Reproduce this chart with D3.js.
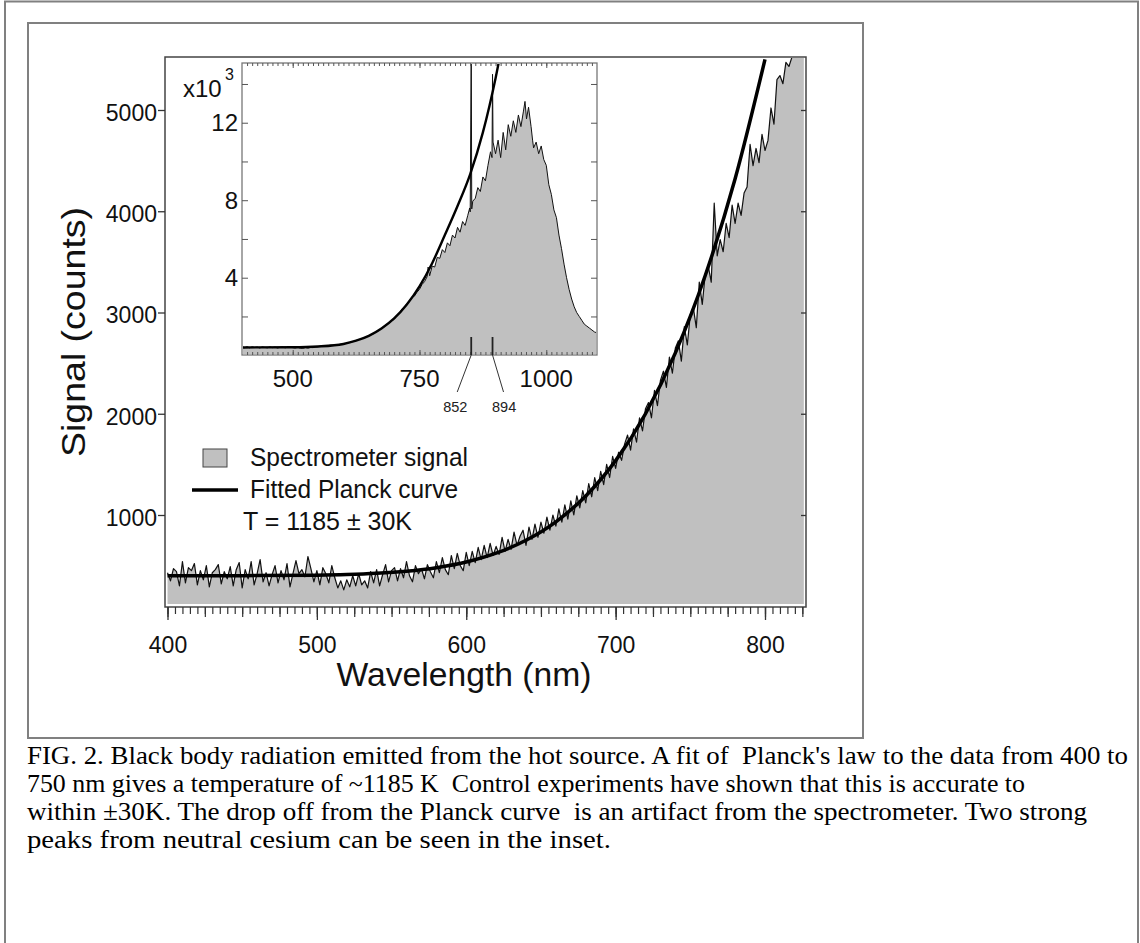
<!DOCTYPE html>
<html>
<head>
<meta charset="utf-8">
<script src="https://cdn.jsdelivr.net/npm/d3@7"></script>
<style>
  body { margin: 0; background: #fff; }
  svg { display: block; }
  text.sans { font-family: "Liberation Sans", Arial, Helvetica, sans-serif; }
  text.caption { font-family: "Liberation Serif", "Times New Roman", Times, serif; white-space: pre; }
  .tick text { font-family: "Liberation Sans", Arial, Helvetica, sans-serif; }
</style>
</head>
<body>
<div id="chart"></div>
<script>
// main spectrum: counts every 2 nm starting at 400 nm
const mainStart = 400, mainStep = 2;
const mainSignal = [
  430, 350, 470, 440, 300, 540, 330, 480, 450, 520, 310, 450, 360, 500, 290, 430, 460, 510, 320, 440,
  370, 490, 300, 460, 530, 280, 460, 370, 540, 310, 420, 560, 340, 430, 300, 410, 500, 330, 450, 360,
  520, 290, 420, 550, 420, 460, 390, 590, 470, 340, 450, 310, 480, 420, 330, 500, 380, 280, 350, 260,
  360, 290, 400, 300, 420, 310, 350, 280, 440, 330, 460, 300, 410, 510, 340, 450, 480, 350, 470, 380,
  540, 400, 340, 500, 420, 470, 370, 510, 440, 380, 540, 430, 580, 460, 410, 600, 470, 620, 500, 450,
  630,
  500, 640, 530, 680, 560, 700, 580, 720, 600, 690, 610, 780, 640, 760, 660, 830, 700, 790, 850, 700,
  880, 760, 910, 780, 930, 820, 980, 850, 1000, 890, 1060, 930, 1100, 960, 1140, 1000, 1190, 1070, 1240, 1120,
  1310, 1180, 1370, 1240, 1430, 1300, 1500, 1370, 1580, 1460,
  1620, 1540, 1700, 1790, 1640, 1850, 1720, 1960, 1830, 2050, 2110, 1960, 2230, 2080, 2330, 2420, 2260, 2560, 2400, 2650,
  2720, 2520, 2860, 2680, 2980, 3050, 2850, 3300, 3080, 3380, 3460, 3300, 4080, 3560, 3720, 3600, 3880, 3740, 4060, 3880,
  4080, 3960, 4180, 4240, 4660, 4450, 4620, 4480, 4760, 4600, 4700, 5020, 4860, 5300, 5340, 5260, 5470, 5430, 5520, 5600,
  5650, 5700, 5750
];
const planckWl = [400, 450, 500, 520, 540, 560, 580, 600, 620, 640, 660, 680, 700, 720, 740, 760, 780, 800];
const planckCounts = [400, 401, 406, 412, 424, 445, 480, 536, 623, 750, 933, 1188, 1537, 2000, 2601, 3365, 4321, 5500];

// inset spectrum, x10^3 counts
const insetWl = [
  400, 405, 410, 415, 420, 425, 430, 435, 440, 445, 450, 455, 460, 465, 470, 475, 480, 485, 490, 495,
  500, 505, 510, 515, 520, 525, 530, 535, 540, 545, 550, 555, 560, 565, 570, 575, 580, 585, 590, 595,
  600, 605, 610, 615, 620, 625, 630, 635, 640, 645, 650, 655, 660, 665, 670, 675, 680, 685, 690, 695,
  700, 705, 710, 715, 720, 725, 730, 735, 740, 745, 750, 755, 760, 765, 767, 770, 775, 780, 785, 790,
  795, 800, 805, 810, 815, 820, 825, 830, 835, 840, 845, 849, 850, 852, 853, 855, 860, 865, 870, 875,
  880, 885, 890, 893, 894, 895, 900, 905, 910, 915, 920, 925, 930, 935, 940, 945, 950, 955, 958, 961,
  965, 970, 973, 975, 980, 985, 990, 995, 1000, 1005, 1010, 1015, 1020, 1025, 1030, 1035, 1040, 1045, 1050, 1055,
  1060, 1065, 1070, 1075, 1080, 1085, 1090, 1095, 1100
];
const insetSignal = [
  0.44, 0.39, 0.44, 0.38, 0.43, 0.40, 0.42, 0.37, 0.43, 0.40, 0.38, 0.43, 0.39, 0.42, 0.37, 0.41, 0.43, 0.38, 0.42, 0.44,
  0.39, 0.37, 0.41, 0.36, 0.35, 0.39, 0.36, 0.40, 0.39, 0.42, 0.44, 0.46, 0.45, 0.48, 0.49, 0.52, 0.51, 0.54, 0.55, 0.57,
  0.57, 0.61, 0.63, 0.68, 0.71, 0.76, 0.79, 0.85, 0.89, 0.95, 0.99, 1.07, 1.12, 1.21, 1.28, 1.38, 1.45, 1.57, 1.66, 1.78,
  1.85, 2.02, 2.13, 2.38, 2.47, 2.66, 2.78, 3.00, 3.05, 3.25, 3.40, 3.65, 3.80, 4.05, 4.55, 4.10, 4.60, 4.55, 5.05, 5.00,
  5.45, 5.30, 5.80, 5.65, 6.20, 6.05, 6.60, 6.35, 6.90, 6.70, 7.20, 7.60, 7.40, 16, 7.55, 7.95, 8.10, 8.65, 8.45, 9.20,
  9.00, 9.80, 10.5, 10.2, 14.5, 11.0, 10.4, 11.1, 10.2, 11.5, 10.6, 11.9, 11.3, 12.1, 11.5, 12.4, 11.8, 12.6, 13.1, 12.2,
  12.8, 11.8, 11.1, 10.7, 11.0, 10.4, 10.8, 10.1, 9.8, 8.8, 8.3, 7.5, 7.1, 6.2, 5.5, 4.7, 4.0, 3.4, 2.9, 2.5,
  2.2, 2.0, 1.8, 1.6, 1.5, 1.4, 1.3, 1.2, 1.15
];
const insetPlanckWl = [400, 500, 550, 600, 625, 650, 675, 700, 725, 750, 775, 800, 825, 850, 875, 900, 910];
const insetPlanck = [0.40, 0.41, 0.45, 0.58, 0.75, 1.00, 1.38, 1.90, 2.62, 3.55, 4.75, 6.20, 7.70, 9.35, 11.5, 14.3, 15.6];

const mainXTicks = [400, 500, 600, 700, 800];
const mainYTicks = [1000, 2000, 3000, 4000, 5000];
const insetXTicks = [500, 750, 1000];
const insetYTicks = [4, 8, 12];
const insetYMinor = [2, 6, 10, 14];
const cesiumLines = [852, 894];

const legendItems = ["Spectrometer signal", "Fitted Planck curve", "T = 1185 \u00b1 30K"];
const captionLines = [
  "FIG. 2. Black body radiation emitted from the hot source. A fit of  Planck's law to the data from 400 to",
  "750 nm gives a temperature of ~1185 K  Control experiments have shown that this is accurate to",
  "within \u00b130K. The drop off from the Planck curve  is an artifact from the spectrometer. Two strong",
  "peaks from neutral cesium can be seen in the inset."
];
const captionWidths = [1101, 998, 1060, 584];

const width = 1140, height = 943;
const fillGray = "#c0c0c0";

const svg = d3.select("#chart").append("svg")
  .attr("width", width)
  .attr("height", height);

// page frames
svg.append("rect").attr("x", 5).attr("y", 1.5).attr("width", 1133).attr("height", 960)
  .attr("fill", "none").attr("stroke", "#808080").attr("stroke-width", 2);
svg.append("rect").attr("x", 28).attr("y", 23).attr("width", 835).attr("height", 715)
  .attr("fill", "none").attr("stroke", "#808080").attr("stroke-width", 2);

// ---------- main plot ----------
const plot = { left: 165, right: 806, top: 57, bottom: 607 };
const x = d3.scaleLinear().domain([400, 800]).range([167.5, 765]);
const y = d3.scaleLinear().domain([0, 5000]).range([616.25, 110]);

svg.append("clipPath").attr("id", "mainClip")
  .append("rect").attr("x", plot.left + 1).attr("y", plot.top + 1)
  .attr("width", plot.right - plot.left - 2).attr("height", plot.bottom - plot.top - 3);

const mainData = mainSignal.map((v, i) => ({ wl: mainStart + i * mainStep, v }));

const gMain = svg.append("g").attr("clip-path", "url(#mainClip)");
gMain.append("path")
  .datum(mainData)
  .attr("fill", fillGray)
  .attr("d", d3.area().x(d => x(d.wl)).y0(plot.bottom - 3).y1(d => y(d.v)));
gMain.append("path")
  .datum(mainData)
  .attr("fill", "none").attr("stroke", "#111").attr("stroke-width", 1.2)
  .attr("stroke-linejoin", "round")
  .attr("d", d3.line().x(d => x(d.wl)).y(d => y(d.v)));
gMain.append("path")
  .datum(planckWl.map((w, i) => [w, planckCounts[i]]))
  .attr("fill", "none").attr("stroke", "#000").attr("stroke-width", 3.5)
  .attr("d", d3.line().curve(d3.curveMonotoneX).x(d => x(d[0])).y(d => y(d[1])));

// frame
svg.append("path")
  .attr("d", `M${plot.left},${plot.bottom}V${plot.top}H${plot.right}V${plot.bottom}Z`)
  .attr("fill", "none").attr("stroke", "#444").attr("stroke-width", 1.5);

// x axis: minor, medium, major ticks
const bottomAxis = (ticks, size) => svg.append("g")
  .attr("transform", `translate(0,${plot.bottom})`)
  .call(d3.axisBottom(x).tickValues(ticks).tickSize(size).tickFormat(""))
  .call(g => g.select(".domain").remove())
  .call(g => g.selectAll(".tick line").attr("stroke", "#333").attr("stroke-width", 1.2));
bottomAxis(d3.range(400, 826, 5), 7);
bottomAxis(d3.range(400, 826, 25), 10);
svg.append("g")
  .attr("transform", `translate(0,${plot.bottom})`)
  .call(d3.axisBottom(x).tickValues(mainXTicks).tickSize(13))
  .call(g => g.select(".domain").remove())
  .call(g => g.selectAll(".tick line").attr("stroke", "#333").attr("stroke-width", 1.3))
  .call(g => g.selectAll(".tick text").attr("y", 30).attr("font-size", 23).attr("fill", "#111"));

// y axis
svg.append("g")
  .attr("transform", `translate(${plot.left},0)`)
  .call(d3.axisLeft(y).tickValues(mainYTicks).tickSize(7).tickPadding(1).tickFormat(d3.format("d")))
  .call(g => g.select(".domain").remove())
  .call(g => g.selectAll(".tick line").attr("stroke", "#333").attr("stroke-width", 1.3))
  .call(g => g.selectAll(".tick text").attr("dy", "0.45em").attr("font-size", 23).attr("fill", "#111"));
svg.append("g")
  .attr("transform", `translate(${plot.right},0)`)
  .call(d3.axisRight(y).tickValues(mainYTicks).tickSize(-5).tickFormat(""))
  .call(g => g.select(".domain").remove())
  .call(g => g.selectAll(".tick line").attr("stroke", "#333").attr("stroke-width", 1.3));

// axis titles
svg.append("text").attr("class", "sans")
  .attr("x", 464).attr("y", 686)
  .attr("text-anchor", "middle").attr("font-size", 33).attr("fill", "#111")
  .attr("textLength", 255).attr("lengthAdjust", "spacingAndGlyphs")
  .text("Wavelength (nm)");
svg.append("text").attr("class", "sans")
  .attr("transform", "translate(85,332) rotate(-90)")
  .attr("text-anchor", "middle").attr("font-size", 34).attr("fill", "#111")
  .attr("textLength", 250).attr("lengthAdjust", "spacingAndGlyphs")
  .text("Signal (counts)");

// legend
svg.append("rect").attr("x", 203).attr("y", 449).attr("width", 24).attr("height", 18)
  .attr("fill", fillGray).attr("stroke", "#444").attr("stroke-width", 1);
svg.append("line").attr("x1", 192).attr("x2", 238).attr("y1", 490).attr("y2", 490)
  .attr("stroke", "#000").attr("stroke-width", 3.5);
const legendPos = [[250, 466, 218], [250, 498, 208], [243, 530, 169]];
legendItems.forEach((t, i) => {
  svg.append("text").attr("class", "sans")
    .attr("x", legendPos[i][0]).attr("y", legendPos[i][1])
    .attr("font-size", 25).attr("fill", "#111")
    .attr("textLength", legendPos[i][2]).attr("lengthAdjust", "spacingAndGlyphs")
    .text(t);
});

// ---------- inset ----------
const ins = { left: 242, right: 597, top: 63, bottom: 355 };
const xi = d3.scaleLinear().domain([400, 1100]).range([ins.left, ins.right]);
const yi = d3.scaleLinear().domain([0, 15]).range([355.2, 64.6]);

svg.append("clipPath").attr("id", "insetClip")
  .append("rect").attr("x", ins.left + 1).attr("y", ins.top + 1)
  .attr("width", ins.right - ins.left - 2).attr("height", ins.bottom - ins.top - 2);

const insetData = insetWl.map((w, i) => ({ wl: w, v: insetSignal[i] }));
const gIns = svg.append("g").attr("clip-path", "url(#insetClip)");
gIns.append("path")
  .datum(insetData)
  .attr("fill", fillGray)
  .attr("d", d3.area().x(d => xi(d.wl)).y0(ins.bottom - 1).y1(d => yi(d.v)));
gIns.append("path")
  .datum(insetData)
  .attr("fill", "none").attr("stroke", "#111").attr("stroke-width", 1)
  .attr("d", d3.line().x(d => xi(d.wl)).y(d => yi(d.v)));
gIns.append("path")
  .datum(insetPlanckWl.map((w, i) => [w, insetPlanck[i]]))
  .attr("fill", "none").attr("stroke", "#000").attr("stroke-width", 2.4)
  .attr("d", d3.line().curve(d3.curveMonotoneX).x(d => xi(d[0])).y(d => yi(d[1])));

svg.append("rect")
  .attr("x", ins.left).attr("y", ins.top)
  .attr("width", ins.right - ins.left).attr("height", ins.bottom - ins.top)
  .attr("fill", "none").attr("stroke", "#777").attr("stroke-width", 1.3);

// inset ticks, all pointing inward
const insTick = (axis, tx, ty) => svg.append("g")
  .attr("transform", `translate(${tx},${ty})`)
  .call(axis)
  .call(g => g.select(".domain").remove())
  .call(g => g.selectAll(".tick line").attr("stroke", "#555").attr("stroke-width", 1));
[ins.bottom, ins.top].forEach((ty, k) => {
  const s = k === 0 ? -1 : 1;
  insTick(d3.axisBottom(xi).tickValues(d3.range(410, 1100, 10)).tickSize(3 * s).tickFormat(""), 0, ty);
  insTick(d3.axisBottom(xi).tickValues(insetXTicks).tickSize(5 * s).tickFormat(""), 0, ty);
});
[ins.left, ins.right].forEach((tx, k) => {
  const s = k === 0 ? -1 : 1;
  insTick(d3.axisLeft(yi).tickValues(insetYTicks.concat(insetYMinor)).tickSize(6 * s).tickFormat(""), tx, 0);
});

// inset labels
svg.append("g").selectAll("text")
  .data(insetXTicks).join("text").attr("class", "sans")
  .attr("x", d => xi(d)).attr("y", 387)
  .attr("text-anchor", "middle").attr("font-size", 24).attr("fill", "#111")
  .text(d => d);
svg.append("g").selectAll("text")
  .data(insetYTicks).join("text").attr("class", "sans")
  .attr("x", 238).attr("y", d => yi(d) + 8.5)
  .attr("text-anchor", "end").attr("font-size", 24).attr("fill", "#111")
  .text(d => d);
svg.append("text").attr("class", "sans").attr("x", 183).attr("y", 97)
  .attr("font-size", 24).attr("fill", "#111").text("x10");
svg.append("text").attr("class", "sans").attr("x", 225).attr("y", 80)
  .attr("font-size", 16).attr("fill", "#111").text("3");

// cesium line markers
const offsets = [-14, 11];
cesiumLines.forEach((w, i) => {
  svg.append("line")
    .attr("x1", xi(w)).attr("x2", xi(w)).attr("y1", 337).attr("y2", ins.bottom)
    .attr("stroke", "#222").attr("stroke-width", 1.8);
  svg.append("line")
    .attr("x1", xi(w)).attr("x2", xi(w) + offsets[i]).attr("y1", ins.bottom).attr("y2", 392)
    .attr("stroke", "#333").attr("stroke-width", 1);
  svg.append("text").attr("class", "sans")
    .attr("x", xi(w) + offsets[i] - 2 * (i === 0 ? 1 : -0.3)).attr("y", 412)
    .attr("text-anchor", "middle").attr("font-size", 14.5).attr("fill", "#222")
    .text(w);
});

// caption
captionLines.forEach((t, i) => {
  svg.append("text").attr("class", "caption")
    .attr("x", 27).attr("y", 764 + i * 28)
    .attr("font-size", 25).attr("fill", "#000")
    .attr("textLength", captionWidths[i]).attr("lengthAdjust", "spacingAndGlyphs")
    .text(t);
});
</script>
</body>
</html>
